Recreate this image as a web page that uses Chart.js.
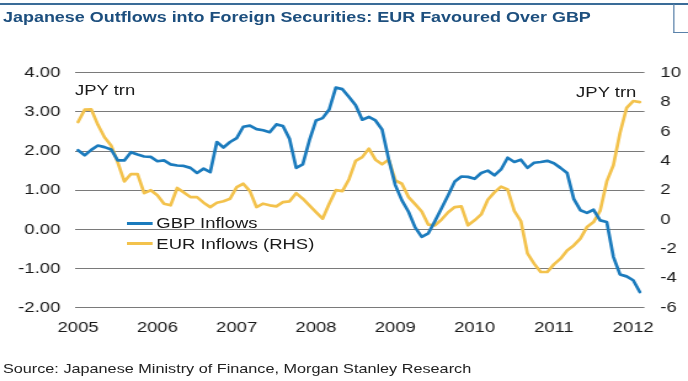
<!DOCTYPE html>
<html>
<head>
<meta charset="utf-8">
<script src="https://cdn.jsdelivr.net/npm/chart.js@4/dist/chart.umd.min.js"></script>
<style>
html,body{margin:0;padding:0;background:#fff;overflow:hidden;width:688px;height:381px;}
#wrap{position:absolute;left:0;top:0;width:559px;height:381px;transform:scaleX(1.2308);transform-origin:0 0;font-family:"Liberation Sans",Arial,sans-serif;}
#chart{position:absolute;left:0;top:0;}
.t{position:absolute;white-space:nowrap;line-height:18px;color:#1a1a1a;}
#title{left:2.4px;top:8px;font-size:14.6px;font-weight:bold;color:#1d4f7e;}
#topline{position:absolute;left:0;top:3px;width:559px;height:2px;background:#3a6c98;}
#tabv{position:absolute;left:547px;top:4px;width:1px;height:29px;background:#5a82aa;}
#tabh{position:absolute;left:547px;top:32px;width:12px;height:1px;background:#5a82aa;}
#jpyl{left:61px;top:81px;font-size:15px;}
#jpyr{right:42px;top:83px;font-size:15px;}
#source{left:2.4px;top:360px;font-size:13.2px;color:#222;}
.lg{position:absolute;left:102.5px;height:18px;font-size:15px;line-height:18px;color:#1a1a1a;white-space:nowrap;}
.lg i{position:absolute;left:0;top:7.5px;width:21px;height:3px;}
.lg span{position:absolute;left:24.5px;top:0;}
</style>
</head>
<body>
<div id="wrap">
  <canvas id="chart" width="559" height="381"></canvas>
  <div id="topline"></div><div id="tabv"></div><div id="tabh"></div>
  <div class="t" id="title">Japanese Outflows into Foreign Securities: EUR Favoured Over GBP</div>
  <div class="t" id="jpyl">JPY trn</div>
  <div class="t" id="jpyr">JPY trn</div>
  <div id="legend"></div>
  <div class="t" id="source">Source: Japanese Ministry of Finance, Morgan Stanley Research</div>
</div>
<script>
// Monthly data, Jan 2005 .. Feb 2012 (index 0 = Jan 2005)
const seriesNames = ['GBP Inflows', 'EUR Inflows (RHS)'];
const gbpInflows = [2.02,1.89,2.03,2.14,2.10,2.04,1.76,1.76,1.97,1.91,
  1.86,1.85,1.74,1.76,1.66,1.63,1.62,1.57,1.44,1.55,
  1.46,2.23,2.09,2.23,2.33,2.62,2.65,2.56,2.53,2.48,
  2.68,2.64,2.31,1.57,1.66,2.27,2.78,2.84,3.06,3.62,
  3.58,3.38,3.17,2.80,2.87,2.78,2.55,1.79,1.13,0.74,
  0.45,0.05,-0.19,-0.10,0.21,0.54,0.87,1.22,1.35,1.34,
  1.29,1.44,1.50,1.38,1.53,1.83,1.72,1.78,1.57,1.70,
  1.72,1.75,1.69,1.57,1.44,0.78,0.49,0.42,0.50,0.23,
  0.19,-0.70,-1.15,-1.20,-1.30,-1.60];
const eurInflows = [6.64,7.48,7.50,6.45,5.60,5.05,3.90,2.60,3.10,3.10,
  1.80,2.00,1.65,1.08,0.97,2.15,1.85,1.53,1.53,1.15,
  0.85,1.15,1.25,1.42,2.21,2.44,1.94,0.85,1.08,0.97,
  0.90,1.19,1.24,1.80,1.42,0.97,0.51,0.06,1.08,2.00,
  1.94,2.75,4.00,4.25,4.83,4.08,3.76,4.08,2.67,2.44,
  1.53,1.05,0.55,-0.35,-0.39,0.00,0.50,0.85,0.90,-0.39,
  -0.05,0.35,1.35,1.85,2.24,2.05,0.60,-0.10,-2.30,-3.00,
  -3.57,-3.57,-3.05,-2.66,-2.10,-1.76,-1.30,-0.51,-0.17,0.60,
  2.60,3.70,5.90,7.60,8.07,8.00];
const yearLabels = ['2005','2006','2007','2008','2009','2010','2011','2012'];
const yearTickMonths = [0,12,24,36,48,60,72,84];

const toPoints = arr => arr.map((v, i) => ({x: i, y: v}));
const tickFont = {family: '"Liberation Sans", Arial, sans-serif', size: 15};

const chart = new Chart(document.getElementById('chart'), {
  type: 'line',
  data: {
    datasets: [
      {label: seriesNames[0], data: toPoints(gbpInflows), yAxisID: 'y',
       borderColor: '#1b7bbd', backgroundColor: '#1b7bbd', borderWidth: 2.7,
       pointRadius: 0, tension: 0, borderJoinStyle: 'round', borderCapStyle: 'round'},
      {label: seriesNames[1], data: toPoints(eurInflows), yAxisID: 'y1',
       borderColor: '#f3c24c', backgroundColor: '#f3c24c', borderWidth: 2.7,
       pointRadius: 0, tension: 0, borderJoinStyle: 'round', borderCapStyle: 'round'}
    ]
  },
  options: {
    responsive: false,
    animation: false,
    devicePixelRatio: 1,
    layout: {padding: {top: 72.7, bottom: 0, left: 0, right: 0}},
    plugins: {legend: {display: false}, tooltip: {enabled: false}},
    scales: {
      x: {
        type: 'linear', min: -0.45, max: 85.7,
        grid: {display: false, drawTicks: false},
        border: {display: false},
        afterBuildTicks: s => { s.ticks = yearTickMonths.map(v => ({value: v})); },
        ticks: {font: tickFont, color: '#1a1a1a', padding: 11, maxRotation: 0, autoSkip: false,
          callback: v => yearLabels[yearTickMonths.indexOf(v)]},
        afterFit: s => { s.height = 381 - 307.7; }
      },
      y: {
        position: 'left', min: -2, max: 4,
        grid: {color: '#7a7a7a', lineWidth: 1, drawTicks: false},
        border: {display: false},
        ticks: {stepSize: 1, font: tickFont, color: '#1a1a1a', padding: 12,
          callback: v => v.toFixed(2)},
        afterFit: s => { s.width = 61; }
      },
      y1: {
        position: 'right', min: -6, max: 10,
        grid: {display: false, drawTicks: false},
        border: {display: false},
        ticks: {stepSize: 2, font: tickFont, color: '#1a1a1a', padding: 13},
        afterFit: s => { s.width = 559 - 523.6; }
      }
    }
  }
});

// HTML legend built from the chart's own datasets
const legendTops = [214, 234.5];
const lg = document.getElementById('legend');
chart.data.datasets.forEach((ds, i) => {
  const row = document.createElement('div');
  row.className = 'lg';
  row.style.top = legendTops[i] + 'px';
  const sw = document.createElement('i');
  sw.style.background = ds.borderColor;
  const tx = document.createElement('span');
  tx.textContent = ds.label;
  row.appendChild(sw); row.appendChild(tx);
  lg.appendChild(row);
});
</script>
</body>
</html>
